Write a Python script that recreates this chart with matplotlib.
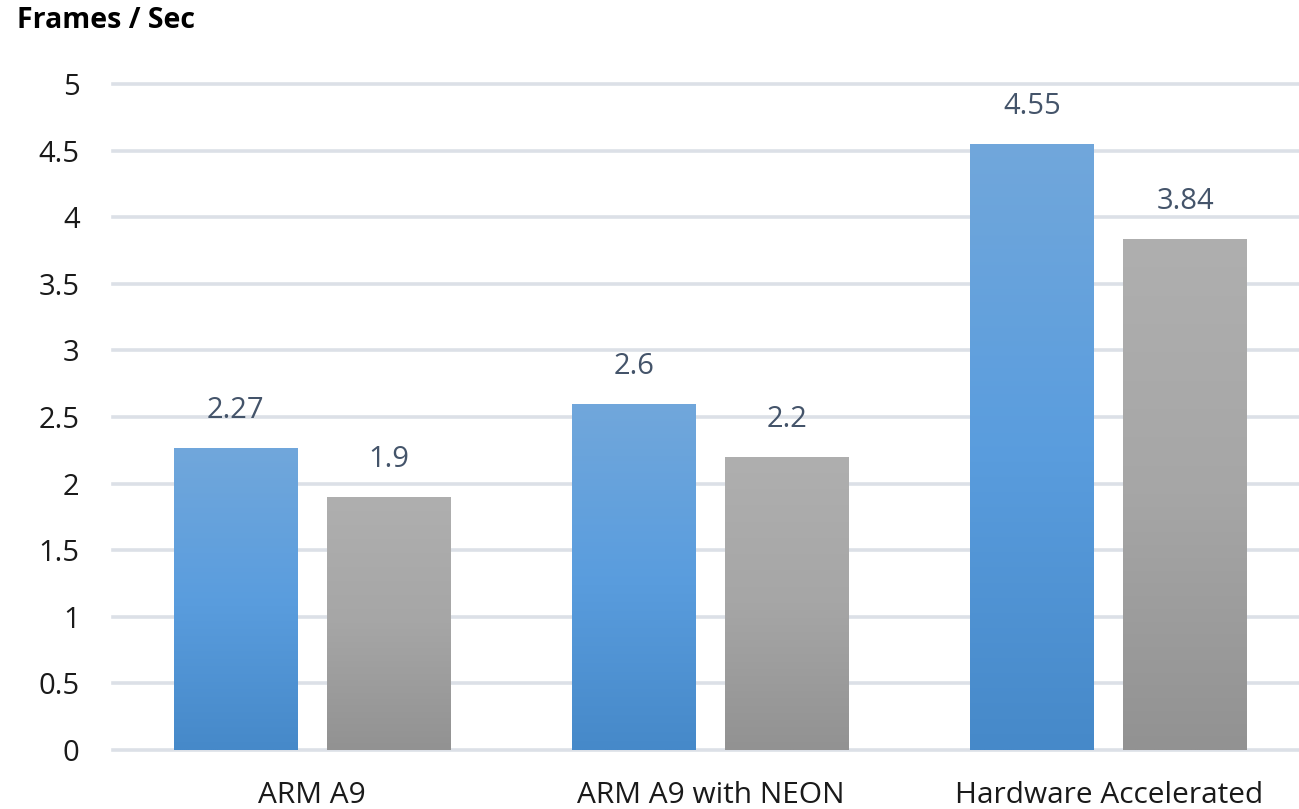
import matplotlib
matplotlib.use("Agg")
import matplotlib.pyplot as plt
import numpy as np
from matplotlib.colors import LinearSegmentedColormap

categories = ["ARM A9", "ARM A9 with NEON", "Hardware Accelerated"]
series_a = [2.27, 2.6, 4.55]
series_b = [1.9, 2.2, 3.84]
yticks = [0, 0.5, 1, 1.5, 2, 2.5, 3, 3.5, 4, 4.5, 5]
ytick_labels = ["0", "0.5", "1", "1.5", "2", "2.5", "3", "3.5", "4", "4.5", "5"]

plt.rcParams['font.family'] = ['Open Sans', 'DejaVu Sans']

fig = plt.figure(figsize=(12.99, 8.09), dpi=100)
ax = fig.add_axes([113/1299, 59/809, 1195/1299, 666/809])

x = np.arange(len(categories))
w = 0.311
off = 0.192

blue_cmap = LinearSegmentedColormap.from_list("b", ["#4689C9", "#5A9DDE", "#71A7DB"])
gray_cmap = LinearSegmentedColormap.from_list("g", ["#929292", "#A6A6A6", "#AFAFAF"])

ax.set_xlim(-0.5, len(categories) - 0.5)
ax.set_ylim(0, 5)

for t in yticks:
    ax.axhline(t, color="#DCE0E7", lw=2.6, zorder=0, clip_on=False)

grad = np.linspace(0, 1, 256).reshape(-1, 1)
for vals, dx, cmap in [(series_a, -off, blue_cmap), (series_b, off, gray_cmap)]:
    bars = ax.bar(x + dx, vals, width=w, facecolor="none", edgecolor="none", zorder=2)
    for b in bars:
        bx, bw, bh = b.get_x(), b.get_width(), b.get_height()
        im = ax.imshow(grad, cmap=cmap, origin="lower", aspect="auto",
                       extent=[bx, bx + bw, 0, bh], zorder=2, interpolation="bilinear")
        im.set_clip_path(b)
        ax.annotate(f"{b.get_height():g}", (bx + bw / 2, bh), xytext=(0, 27),
                    textcoords="offset points", ha="center", va="center",
                    fontsize=21, color="#44546A")

ax.set_xlim(-0.5, len(categories) - 0.5)
ax.set_ylim(0, 5)

ax.set_xticks(x)
ax.set_xticklabels(categories, fontsize=21.5, color="#1A1A1A")
ax.set_yticks(yticks)
ax.set_yticklabels(ytick_labels, fontsize=21, color="#1A1A1A")
ax.tick_params(axis="x", length=0, pad=22)
ax.tick_params(axis="y", length=0, pad=24)
for s in ax.spines.values():
    s.set_visible(False)

fig.text(17/1299, 1 - 21/809, "Frames / Sec", fontsize=20.5, fontweight="bold",
         ha="left", va="center", color="#000000")

fig.savefig("out.png", dpi=100)
